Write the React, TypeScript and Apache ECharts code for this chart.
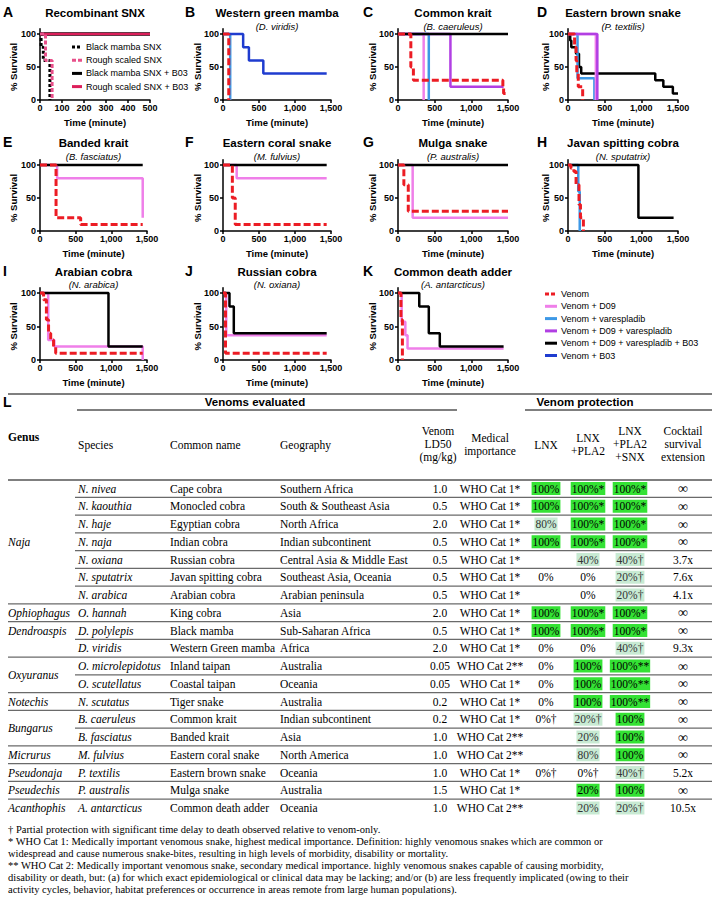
import React, { useEffect, useRef } from 'react';
import * as echarts from 'echarts';

const SANS = "'Liberation Sans', Arial, Helvetica, sans-serif";
const SERIF = "'Liberation Serif', 'Times New Roman', Times, serif";

type Pt = [number, number];

// ---------- colours ----------
const RED = '#ec1c24';
const PINK = '#ef7fe9';
const LBLUE = '#3d98e6';
const PURPLE = '#b13fe3';
const BLACK = '#000000';
const DBLUE = '#1f3ccf';
const CRIMSON = '#dc1f5a';
const ROSE = '#e8508a';

// ---------- survival data [time (min), % survival] ----------
// A Recombinant SNX
const aBlackMambaSNX: Pt[] = [[0, 100], [5, 80], [15, 60], [45, 0]];
const aRoughSNX: Pt[] = [[0, 100], [25, 60], [55, 0]];
const aBlackMambaSNXB03: Pt[] = [[0, 100], [500, 100]];
const aRoughSNXB03: Pt[] = [[0, 100], [500, 100]];
// B Western green mamba
const bVenom: Pt[] = [[0, 100], [80, 0]];
const bVaresp: Pt[] = [[0, 100], [100, 0]];
const bB03: Pt[] = [[0, 100], [280, 80], [360, 60], [560, 40], [1440, 40]];
// C Common krait
const cVenom: Pt[] = [[0, 100], [175, 50], [210, 30], [1430, 20], [1440, 10], [1480, 10]];
const cD09: Pt[] = [[0, 100], [350, 0]];
const cVaresp: Pt[] = [[0, 100], [420, 0]];
const cD09Var: Pt[] = [[0, 100], [715, 20], [1440, 20]];
const cCombo: Pt[] = [[0, 100], [1500, 100]];
// D Eastern brown snake
const dVenom: Pt[] = [[0, 100], [90, 80], [110, 60], [120, 40], [140, 20], [200, 0]];
const dD09: Pt[] = [[0, 100], [380, 0]];
const dVaresp: Pt[] = [[0, 100], [130, 33], [360, 0]];
const dD09Var: Pt[] = [[0, 100], [400, 0]];
const dCombo: Pt[] = [[0, 100], [30, 90], [45, 80], [110, 70], [150, 50], [180, 40], [1190, 30], [1300, 20], [1430, 10], [1500, 10]];
// E Banded krait
const eVenom: Pt[] = [[0, 100], [225, 20], [570, 10], [1440, 10]];
const eD09: Pt[] = [[0, 100], [240, 80], [1440, 20]];
const eCombo: Pt[] = [[0, 100], [1440, 100]];
// F Eastern coral snake
const fVenom: Pt[] = [[0, 100], [130, 50], [170, 10], [1440, 10]];
const fD09: Pt[] = [[0, 100], [190, 80], [1440, 80]];
const fCombo: Pt[] = [[0, 100], [1440, 100]];
// G Mulga snake
const gVenom: Pt[] = [[0, 100], [80, 70], [140, 30], [1500, 30]];
const gD09: Pt[] = [[0, 100], [200, 20], [1500, 20]];
const gCombo: Pt[] = [[0, 100], [1500, 100]];
// H Javan spitting cobra
const hVenom: Pt[] = [[0, 100], [40, 95], [80, 90], [110, 70], [150, 40], [170, 20], [210, 0]];
const hVaresp: Pt[] = [[0, 100], [140, 60], [160, 0]];
const hCombo: Pt[] = [[0, 100], [960, 20], [1440, 20]];
// I Arabian cobra
const iVenom: Pt[] = [[0, 100], [50, 90], [90, 60], [120, 40], [150, 30], [190, 20], [220, 10], [1440, 10]];
const iD09: Pt[] = [[0, 100], [115, 30], [200, 20], [1440, 0]];
const iCombo: Pt[] = [[0, 100], [960, 20], [1440, 20]];
// J Russian cobra
const jVenom: Pt[] = [[0, 100], [35, 10], [1440, 10]];
const jD09: Pt[] = [[0, 100], [45, 37], [1440, 37]];
const jCombo: Pt[] = [[0, 100], [90, 80], [150, 40], [1440, 40]];
// K Common death adder
const kVenom: Pt[] = [[0, 100], [40, 60], [60, 0]];
const kD09: Pt[] = [[0, 100], [50, 57], [100, 37], [130, 17], [1440, 17]];
const kCombo: Pt[] = [[0, 100], [290, 80], [420, 40], [570, 20], [1440, 20]];

const Y_TICKS = [0, 50, 100];
const A_LEGEND = ['Black mamba SNX', 'Rough scaled SNX', 'Black mamba SNX + B03', 'Rough scaled SNX + B03'];
const TREATMENTS = ['Venom', 'Venom + D09', 'Venom + varespladib', 'Venom + D09 + varespladib', 'Venom + D09 + varespladib + B03', 'Venom + B03'];

// ---------- table data ----------
const genusOfRow = ['Naja', 'Naja', 'Naja', 'Naja', 'Naja', 'Naja', 'Naja', 'Ophiophagus', 'Dendroaspis', 'Dendroaspis', 'Oxyuranus', 'Oxyuranus', 'Notechis', 'Bungarus', 'Bungarus', 'Micrurus', 'Pseudonaja', 'Pseudechis', 'Acanthophis'];
const genusLabels: [string, number][] = [['Naja', 3], ['Ophiophagus', 7], ['Dendroaspis', 8], ['Oxyuranus', 10.5], ['Notechis', 12], ['Bungarus', 13.5], ['Micrurus', 15], ['Pseudonaja', 16], ['Pseudechis', 17], ['Acanthophis', 18]];
const species = ['N. nivea', 'N. kaouthia', 'N. haje', 'N. naja', 'N. oxiana', 'N. sputatrix', 'N. arabica', 'O. hannah', 'D. polylepis', 'D. viridis', 'O. microlepidotus', 'O. scutellatus', 'N. scutatus', 'B. caeruleus', 'B. fasciatus', 'M. fulvius', 'P. textilis', 'P. australis', 'A. antarcticus'];
const commonNames = ['Cape cobra', 'Monocled cobra', 'Egyptian cobra', 'Indian cobra', 'Russian cobra', 'Javan spitting cobra', 'Arabian cobra', 'King cobra', 'Black mamba', 'Western Green mamba', 'Inland taipan', 'Coastal taipan', 'Tiger snake', 'Common krait', 'Banded krait', 'Eastern coral snake', 'Eastern brown snake', 'Mulga snake', 'Common death adder'];
const geography = ['Southern Africa', 'South & Southeast Asia', 'North Africa', 'Indian subcontinent', 'Central Asia & Middle East', 'Southeast Asia, Oceania', 'Arabian peninsula', 'Asia', 'Sub-Saharan Africa', 'Africa', 'Australia', 'Oceania', 'Australia', 'Indian subcontinent', 'Asia', 'North America', 'Oceania', 'Australia', 'Oceania'];
const ld50 = ['1.0', '0.5', '2.0', '0.5', '0.5', '0.5', '0.5', '2.0', '0.5', '2.0', '0.05', '0.05', '0.2', '0.2', '1.0', '1.0', '1.0', '1.5', '1.0'];
const importance = ['WHO Cat 1*', 'WHO Cat 1*', 'WHO Cat 1*', 'WHO Cat 1*', 'WHO Cat 1*', 'WHO Cat 1*', 'WHO Cat 1*', 'WHO Cat 1*', 'WHO Cat 1*', 'WHO Cat 1*', 'WHO Cat 2**', 'WHO Cat 1*', 'WHO Cat 1*', 'WHO Cat 1*', 'WHO Cat 2**', 'WHO Cat 2**', 'WHO Cat 1*', 'WHO Cat 1*', 'WHO Cat 2**'];
const lnx = ['100%', '100%', '80%', '100%', '', '0%', '', '100%', '100%', '0%', '0%', '0%', '0%', '0%†', '', '', '0%†', '', ''];
const lnxLevel = ['full', 'full', 'part', 'full', '', '', '', 'full', 'full', '', '', '', '', '', '', '', '', '', ''];
const lnxPla2 = ['100%*', '100%*', '100%*', '100%*', '40%', '0%', '0%', '100%*', '100%*', '0%', '100%', '100%', '100%', '20%†', '20%', '80%', '0%†', '20%', '20%'];
const lnxPla2Level = ['full', 'full', 'full', 'full', 'part', '', '', 'full', 'full', '', 'full', 'full', 'full', 'part', 'part', 'part', '', 'full', 'part'];
const lnxPla2Snx = ['100%*', '100%*', '100%*', '100%*', '40%†', '20%†', '20%†', '100%*', '100%*', '40%†', '100%**', '100%**', '100%**', '100%', '100%', '100%', '40%†', '100%', '20%†'];
const lnxPla2SnxLevel = ['full', 'full', 'full', 'full', 'part', 'part', 'part', 'full', 'full', 'part', 'full', 'full', 'full', 'full', 'full', 'full', 'part', 'full', 'part'];
const cocktail = ['∞', '∞', '∞', '∞', '3.7x', '7.6x', '4.1x', '∞', '∞', '9.3x', '∞', '∞', '∞', '∞', '∞', '∞', '5.2x', '∞', '10.5x'];
const footnotes = [
  '† Partial protection with significant time delay to death observed relative to venom-only.',
  '* WHO Cat 1: Medically important venomous snake, highest medical importance. Definition: highly venomous snakes which are common or',
  'widespread and cause numerous snake-bites, resulting in high levels of morbidity, disability or mortality.',
  '** WHO Cat 2: Medically important venomous snake, secondary medical importance. highly venomous snakes capable of causing morbidity,',
  'disability or death, but: (a) for which exact epidemiological or clinical data may be lacking; and/or (b) are less frequently implicated (owing to their',
  'activity cycles, behavior, habitat preferences or occurrence in areas remote from large human populations).',
];

// ---------- styles ----------
const KIND: Record<string, { color: string; width: number; dash?: number[] }> = {
  venom: { color: RED, width: 3, dash: [7, 3] },
  d09: { color: PINK, width: 2.5 },
  varesp: { color: LBLUE, width: 2.5 },
  d09var: { color: PURPLE, width: 2.5 },
  combo: { color: BLACK, width: 2.5 },
  b03: { color: DBLUE, width: 2.5 },
};
const LEGEND_KINDS = ['venom', 'd09', 'varesp', 'd09var', 'combo', 'b03'];

interface SDef { data: Pt[]; color: string; width: number; dash?: number[] }
const s = (kind: string, data: Pt[]): SDef => ({ data, ...KIND[kind] });

interface PDef { letter: string; title: string; subtitle?: string; col: number; row: number; xMax: number; xStep: number; right?: number; series: SDef[] }

const PANELS: PDef[] = [
  { letter: 'A', title: 'Recombinant SNX', col: 0, row: 0, xMax: 500, xStep: 100, right: 150, series: [
    { data: aBlackMambaSNXB03, color: BLACK, width: 3.5 },
    { data: aRoughSNXB03, color: CRIMSON, width: 2.5 },
    { data: aBlackMambaSNX, color: BLACK, width: 3, dash: [3, 2] },
    { data: aRoughSNX, color: ROSE, width: 3, dash: [4, 2] },
  ] },
  { letter: 'B', title: 'Western green mamba', subtitle: '(D. viridis)', col: 1, row: 0, xMax: 1500, xStep: 500, series: [s('varesp', bVaresp), s('b03', bB03), s('venom', bVenom)] },
  { letter: 'C', title: 'Common krait', subtitle: '(B. caeruleus)', col: 2, row: 0, xMax: 1500, xStep: 500, series: [s('varesp', cVaresp), s('d09', cD09), s('d09var', cD09Var), s('combo', cCombo), s('venom', cVenom)] },
  { letter: 'D', title: 'Eastern brown snake', subtitle: '(P. textilis)', col: 3, row: 0, xMax: 1500, xStep: 500, series: [s('combo', dCombo), s('varesp', dVaresp), s('d09', dD09), s('d09var', dD09Var), s('venom', dVenom)] },
  { letter: 'E', title: 'Banded krait', subtitle: '(B. fasciatus)', col: 0, row: 1, xMax: 1500, xStep: 500, series: [s('d09', eD09), s('combo', eCombo), s('venom', eVenom)] },
  { letter: 'F', title: 'Eastern coral snake', subtitle: '(M. fulvius)', col: 1, row: 1, xMax: 1500, xStep: 500, series: [s('d09', fD09), s('combo', fCombo), s('venom', fVenom)] },
  { letter: 'G', title: 'Mulga snake', subtitle: '(P. australis)', col: 2, row: 1, xMax: 1500, xStep: 500, series: [s('d09', gD09), s('combo', gCombo), s('venom', gVenom)] },
  { letter: 'H', title: 'Javan spitting cobra', subtitle: '(N. sputatrix)', col: 3, row: 1, xMax: 1500, xStep: 500, series: [s('varesp', hVaresp), s('combo', hCombo), s('venom', hVenom)] },
  { letter: 'I', title: 'Arabian cobra', subtitle: '(N. arabica)', col: 0, row: 2, xMax: 1500, xStep: 500, series: [s('d09', iD09), s('combo', iCombo), s('venom', iVenom)] },
  { letter: 'J', title: 'Russian cobra', subtitle: '(N. oxiana)', col: 1, row: 2, xMax: 1500, xStep: 500, series: [s('d09', jD09), s('combo', jCombo), s('venom', jVenom)] },
  { letter: 'K', title: 'Common death adder', subtitle: '(A. antarcticus)', col: 2, row: 2, xMax: 1500, xStep: 500, series: [s('d09', kD09), s('combo', kCombo), s('venom', kVenom)] },
];

// ---------- layout ----------
const COLS = [
  { left: 40, right: 147, yName: 13, letter: 3 },
  { left: 223, right: 331, yName: 197, letter: 185 },
  { left: 398, right: 508, yName: 372, letter: 363 },
  { left: 568, right: 678, yName: 545, letter: 537 },
];
const ROWS = [
  { title: 13, sub: 26, y100: 34, y0: 100 },
  { title: 143, sub: 156, y100: 165, y0: 231 },
  { title: 272, sub: 284, y100: 293, y0: 360 },
];
const Y_MAX = 108;

const T = {
  topLine: 394, secY: 402, secLine: 410, hdrLine: 480, row0: 488.5, rowH: 17.75, foot0: 829, footH: 12,
  xl: 8, xr: 712,
  genus: 8, species: 78, common: 170, geo: 280, ld50: 438, med: 490, lnx: 546, pla2: 588, snx: 630, cocktail: 683,
};
const FULL_BG = '#34e234';
const PART_BG = '#c8ead3';

let measureCtx: CanvasRenderingContext2D | null = null;
function textWidth(t: string, font: string) {
  if (!measureCtx) measureCtx = document.createElement('canvas').getContext('2d');
  if (!measureCtx) return t.length * 5.5;
  measureCtx.font = font;
  return measureCtx.measureText(t).width;
}

function txt(text: string, x: number, y: number, o: any = {}) {
  const style: any = {
    text,
    fontSize: o.size ?? 11,
    fontFamily: o.family ?? SANS,
    fontWeight: o.weight ?? 'normal',
    fontStyle: o.italic ? 'italic' : 'normal',
    fill: o.fill ?? '#000',
    textAlign: o.align ?? 'left',
    textVerticalAlign: 'middle',
  };
  if (o.bg) { style.backgroundColor = o.bg; style.padding = [1, 1, 0, 1]; }
  return { type: 'text', x, y, rotation: o.rot ?? 0, silent: true, z: o.z ?? 10, style };
}
function hline(x1: number, x2: number, y: number, o: any = {}) {
  return { type: 'line', silent: true, z: 5, shape: { x1, y1: y, x2, y2: y }, style: { stroke: o.color ?? '#666', lineWidth: o.width ?? 1.3, lineDash: o.dash } };
}

function buildOption() {
  const grid: any[] = [], xAxis: any[] = [], yAxis: any[] = [], series: any[] = [], g: any[] = [];
  const axisLabel = { fontSize: 9, fontWeight: 'bold', fontFamily: SANS, color: '#000' };
  PANELS.forEach((p, i) => {
    const c = COLS[p.col];
    const r = ROWS[p.row];
    const left = c.left;
    const right = p.right ?? c.right;
    const span = r.y0 - r.y100;
    const top = r.y100 - (span * (Y_MAX - 100)) / 100;
    grid.push({ left, top, width: right - left, height: r.y0 - top, containLabel: false });
    xAxis.push({
      type: 'value', gridIndex: i, min: 0, max: p.xMax, interval: p.xStep,
      axisLine: { show: true, onZero: false, lineStyle: { color: '#000', width: 1.5 } },
      axisTick: { show: true, length: 3, lineStyle: { color: '#000', width: 1.5 } },
      axisLabel: { ...axisLabel, margin: 3 },
      splitLine: { show: false },
    });
    yAxis.push({
      type: 'value', gridIndex: i, min: 0, max: Y_MAX,
      axisLine: { show: true, onZero: false, lineStyle: { color: '#000', width: 1.5 } },
      axisTick: { show: true, length: 3, lineStyle: { color: '#000', width: 1.5 }, customValues: Y_TICKS },
      axisLabel: { ...axisLabel, margin: 4, customValues: Y_TICKS },
      splitLine: { show: false },
    });
    p.series.forEach((sd, k) => {
      series.push({
        type: 'line', xAxisIndex: i, yAxisIndex: i, data: sd.data, step: 'end', symbol: 'none',
        lineStyle: { color: sd.color, width: sd.width, type: sd.dash ?? 'solid', cap: 'butt' },
        z: 2 + k, silent: true, animation: false,
      });
    });
    const cx = (left + right) / 2;
    g.push(txt(p.letter, c.letter, r.title - 1, { size: 14, weight: 'bold' }));
    g.push(txt(p.title, cx, r.title, { size: 11.5, weight: 'bold', align: 'center' }));
    if (p.subtitle) g.push(txt(p.subtitle, cx, r.sub, { size: 9.5, italic: true, align: 'center' }));
    g.push(txt('% Survival', c.yName, (r.y100 + r.y0) / 2, { size: 9.5, weight: 'bold', align: 'center', rot: Math.PI / 2 }));
    g.push(txt('Time (minute)', cx, r.y0 + 22, { size: 9.5, weight: 'bold', align: 'center' }));
  });

  // legend in panel A
  const aStyles = PANELS[0].series;
  const aOrder = [2, 3, 0, 1];
  A_LEGEND.forEach((name, k) => {
    const y = 47 + k * 13.2;
    const sd = aStyles[aOrder[k]];
    g.push({ type: 'line', silent: true, z: 12, shape: { x1: 72, y1: y, x2: 82, y2: y }, style: { stroke: sd.color, lineWidth: 3, lineDash: sd.dash } });
    g.push(txt(name, 86, y, { size: 9 }));
  });
  // treatment legend
  TREATMENTS.forEach((name, k) => {
    const y = 294 + k * 12.3;
    const st = KIND[LEGEND_KINDS[k]];
    g.push({ type: 'line', silent: true, z: 12, shape: { x1: 545, y1: y, x2: 557, y2: y }, style: { stroke: st.color, lineWidth: 3, lineDash: st.dash ? [4, 2] : undefined } });
    g.push(txt(name, 561, y, { size: 9 }));
  });

  // ---------- table ----------
  g.push(hline(T.xl, T.xr, T.topLine, { color: '#555', width: 1.5 }));
  g.push(txt('L', 3, T.secY, { size: 14, weight: 'bold' }));
  g.push(txt('Venoms evaluated', 255, T.secY, { size: 11.5, weight: 'bold', align: 'center' }));
  g.push(hline(77, 457, T.secLine, { color: '#555', width: 1.3 }));
  g.push(txt('Venom protection', 585, T.secY, { size: 11.5, weight: 'bold', align: 'center' }));
  g.push(hline(525, T.xr, T.secLine, { color: '#555', width: 1.3 }));

  const sf = { family: SERIF, size: 11.5 };
  g.push(txt('Genus', T.genus, 437, { ...sf, weight: 'bold' }));
  g.push(txt('Species', T.species, 445, sf));
  g.push(txt('Common name', T.common, 445, sf));
  g.push(txt('Geography', T.geo, 445, sf));
  const hdr3 = (lines: string[], x: number) => {
    const n = lines.length;
    const y0 = n === 3 ? 431 : n === 2 ? 437.5 : 445;
    lines.forEach((l, k) => g.push(txt(l, x, y0 + k * 13, { ...sf, align: 'center' })));
  };
  hdr3(['Venom', 'LD50', '(mg/kg)'], T.ld50);
  hdr3(['Medical', 'importance'], T.med);
  hdr3(['LNX'], T.lnx);
  hdr3(['LNX', '+PLA2'], T.pla2);
  hdr3(['LNX', '+PLA2', '+SNX'], T.snx);
  hdr3(['Cocktail', 'survival', 'extension'], T.cocktail);
  g.push(hline(T.xl, T.xr, T.hdrLine, { color: '#555', width: 1.5 }));

  const rowY = (i: number) => T.row0 + T.rowH * i;
  const font = `11.5px ${SERIF}`;
  species.forEach((sp, i) => {
    const y = rowY(i);
    g.push(txt(sp, T.species, y, { ...sf, italic: true }));
    g.push(txt(commonNames[i], T.common, y, sf));
    const cw = textWidth(commonNames[i], font);
    g.push(txt(geography[i], Math.max(T.geo, T.common + cw + 5), y, sf));
    g.push(txt(ld50[i], T.ld50 + 2, y, { ...sf, align: 'center' }));
    g.push(txt(importance[i], T.med, y, { ...sf, align: 'center' }));
    const cell = (v: string, lvl: string, x: number) => {
      if (!v) return;
      const bg = lvl === 'full' ? FULL_BG : lvl === 'part' ? PART_BG : undefined;
      g.push(txt(v, x, y, { ...sf, align: 'center', bg, fill: lvl === 'part' ? '#333' : '#000' }));
    };
    cell(lnx[i], lnxLevel[i], T.lnx);
    cell(lnxPla2[i], lnxPla2Level[i], T.pla2);
    cell(lnxPla2Snx[i], lnxPla2SnxLevel[i], T.snx);
    g.push(txt(cocktail[i], T.cocktail, y, { ...sf, align: 'center', size: cocktail[i] === '∞' ? 14 : 11.5 }));
    if (i < species.length - 1) {
      const full = genusOfRow[i] !== genusOfRow[i + 1];
      g.push(hline(full ? T.xl : 75, T.xr, y + T.rowH / 2, { color: '#6a6a6a', width: 1.3 }));
    }
  });
  genusLabels.forEach(([name, r]) => g.push(txt(name, T.genus, rowY(r), { ...sf, italic: true })));

  footnotes.forEach((f, k) => g.push(txt(f, T.xl, T.foot0 + k * T.footH, { family: SERIF, size: 10.5 })));

  return {
    animation: false,
    backgroundColor: '#ffffff',
    grid, xAxis, yAxis, series,
    graphic: { elements: g },
  };
}

export default function App() {
  const ref = useRef<HTMLDivElement>(null);
  useEffect(() => {
    if (!ref.current) return;
    const chart = echarts.init(ref.current, null, { renderer: 'svg', width: 720, height: 899 });
    chart.setOption(buildOption() as any);
    return () => chart.dispose();
  }, []);
  return <div ref={ref} style={{ position: 'absolute', left: 0, top: 0, width: 720, height: 899, background: '#fff' }} />;
}
